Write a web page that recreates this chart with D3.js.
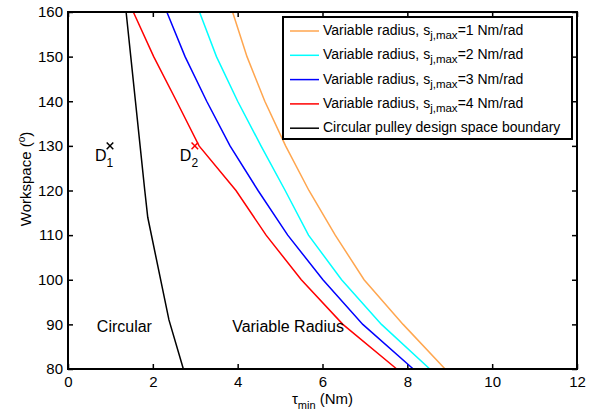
<!DOCTYPE html>
<html>
<head>
<meta charset="utf-8">
<script src="https://cdn.jsdelivr.net/npm/d3@7"></script>
<style>
  body { margin: 0; background: #fff; }
  svg { font-family: "Liberation Sans", Arial, sans-serif; }
</style>
</head>
<body>
<svg id="chart" width="592" height="413"></svg>
<script>
// ---- data ----
const workspace = [160, 150, 140, 130, 120, 110, 100, 90, 80];
const tauS1 = [3.88, 4.22, 4.64, 5.13, 5.68, 6.30, 6.98, 7.90, 8.89];
const tauS2 = [3.10, 3.50, 4.00, 4.55, 5.12, 5.67, 6.45, 7.39, 8.53];
const tauS3 = [2.33, 2.76, 3.27, 3.82, 4.48, 5.18, 6.01, 6.95, 8.14];
const tauS4 = [1.54, 2.02, 2.56, 3.09, 3.96, 4.67, 5.50, 6.48, 7.75];

const boundaryWorkspace = [160, 150, 140, 130, 120, 114, 91, 80];
const boundaryTau = [1.37, 1.48, 1.59, 1.70, 1.81, 1.88, 2.38, 2.72];

const seriesNames = ["s1", "s2", "s3", "s4", "boundary"];
const seriesColors = ["#ffa64f", "#00ffff", "#0000ff", "#ff0000", "#000000"];
const legendMain = ["Variable radius, s", "Variable radius, s", "Variable radius, s", "Variable radius, s", "Circular pulley design space boundary"];
const legendSub = ["j,max", "j,max", "j,max", "j,max", ""];
const legendTail = ["=1 Nm/rad", "=2 Nm/rad", "=3 Nm/rad", "=4 Nm/rad", ""];

const xTicks = [0, 2, 4, 6, 8, 10, 12];
const yTicks = [80, 90, 100, 110, 120, 130, 140, 150, 160];

const designPoints = [
  { name: "D", sub: "1", tau: 0.99, ws: 130, color: "#000" },
  { name: "D", sub: "2", tau: 2.99, ws: 130, color: "#ff0000" }
];

// ---- layout ----
const svg = d3.select("#chart");
const margin = { top: 12, right: 15, bottom: 44, left: 68 };
const width = 592 - margin.left - margin.right;
const height = 413 - margin.top - margin.bottom;

const g = svg.append("g")
  .attr("transform", `translate(${margin.left},${margin.top})`);

const x = d3.scaleLinear().domain([0, 12]).range([0, width]);
const y = d3.scaleLinear().domain([80, 160]).range([height, 0]);

// ---- axes (MATLAB style: inward ticks on all sides) ----
const xAxis = d3.axisBottom(x).tickValues(xTicks).tickSizeInner(-5).tickSizeOuter(0).tickPadding(7);
const yAxis = d3.axisLeft(y).tickValues(yTicks).tickSizeInner(-5).tickSizeOuter(0).tickPadding(5);

g.append("g").attr("transform", `translate(0,${height})`).call(xAxis);
g.append("g").call(yAxis);
g.append("g").call(d3.axisTop(x).tickValues(xTicks).tickSizeInner(-5).tickSizeOuter(0).tickFormat(""));
g.append("g").attr("transform", `translate(${width},0)`)
  .call(d3.axisRight(y).tickValues(yTicks).tickSizeInner(-5).tickSizeOuter(0).tickFormat(""));

g.selectAll(".domain").remove();
g.selectAll(".tick line").attr("stroke", "#000").attr("stroke-width", 1.5);
g.selectAll(".tick text").attr("font-size", 15).attr("fill", "#000")
  .attr("font-family", "Liberation Sans, Arial, sans-serif");

// ---- curves ----
const line = d3.line().x(d => x(d.tau)).y(d => y(d.ws));
const allSeries = [tauS1, tauS2, tauS3, tauS4].map(arr => arr.map((t, i) => ({ tau: t, ws: workspace[i] })));
allSeries.push(boundaryTau.map((t, i) => ({ tau: t, ws: boundaryWorkspace[i] })));

g.selectAll("path.curve")
  .data(allSeries)
  .enter()
  .append("path")
  .attr("class", "curve")
  .attr("fill", "none")
  .attr("stroke", (d, i) => seriesColors[i])
  .attr("stroke-width", 1.5)
  .attr("d", line);

// plot frame
g.append("rect")
  .attr("width", width).attr("height", height)
  .attr("fill", "none").attr("stroke", "#000").attr("stroke-width", 2);

// ---- design points ----
const pts = g.selectAll("g.dpt").data(designPoints).enter().append("g").attr("class", "dpt");
pts.append("path")
  .attr("transform", d => `translate(${x(d.tau)},${y(d.ws)})`)
  .attr("d", d3.symbol().type(d3.symbolX).size(30))
  .attr("fill", "none")
  .attr("stroke", d => d.color)
  .attr("stroke-width", 1.5);
const lbl = pts.append("text")
  .attr("x", d => x(d.tau) - 15)
  .attr("y", d => y(d.ws) + 15)
  .attr("font-size", 16)
  .attr("fill", "#000");
lbl.append("tspan").text(d => d.name);
lbl.append("tspan").attr("dy", 6).attr("font-size", 12).text(d => d.sub);

// region labels
g.append("text").attr("x", x(0.68)).attr("y", y(88.3))
  .attr("font-size", 16).attr("fill", "#000").text("Circular");
g.append("text").attr("x", x(3.87)).attr("y", y(88.3))
  .attr("font-size", 16).attr("fill", "#000").text("Variable Radius");

// ---- axis labels ----
const xl = svg.append("text")
  .attr("x", margin.left + width / 2)
  .attr("y", 404)
  .attr("text-anchor", "middle")
  .attr("font-size", 15)
  .attr("fill", "#000");
xl.append("tspan").text("τ");
xl.append("tspan").attr("dy", 5).attr("font-size", 11).text("min");
xl.append("tspan").attr("dy", -5).text(" (Nm)");

const yl = svg.append("text")
  .attr("transform", `translate(31,${margin.top + 167}) rotate(-90)`)
  .attr("text-anchor", "middle")
  .attr("font-size", 15)
  .attr("fill", "#000");
yl.append("tspan").text("Workspace (");
yl.append("tspan").attr("dy", -6).attr("font-size", 10).text("o");
yl.append("tspan").attr("dy", 6).text(")");

// ---- legend ----
const legend = svg.append("g").attr("transform", "translate(283,17)");
legend.append("rect")
  .attr("width", 289).attr("height", 122)
  .attr("fill", "#fff").attr("stroke", "#000").attr("stroke-width", 2);

const rows = legend.selectAll("g.row").data(seriesNames).enter().append("g")
  .attr("class", "row")
  .attr("transform", (d, i) => `translate(0,${14 + i * 24.3})`);
rows.append("line")
  .attr("x1", 7).attr("x2", 36)
  .attr("stroke", (d, i) => seriesColors[i]).attr("stroke-width", 1.5);
const rt = rows.append("text")
  .attr("x", 40).attr("y", 4)
  .attr("font-size", 14).attr("fill", "#000");
rt.append("tspan").text((d, i) => legendMain[i]);
rt.append("tspan").attr("dy", 4).attr("font-size", 11.5).text((d, i) => legendSub[i]);
rt.append("tspan").attr("dy", -4).text((d, i) => legendTail[i]);
</script>
</body>
</html>
